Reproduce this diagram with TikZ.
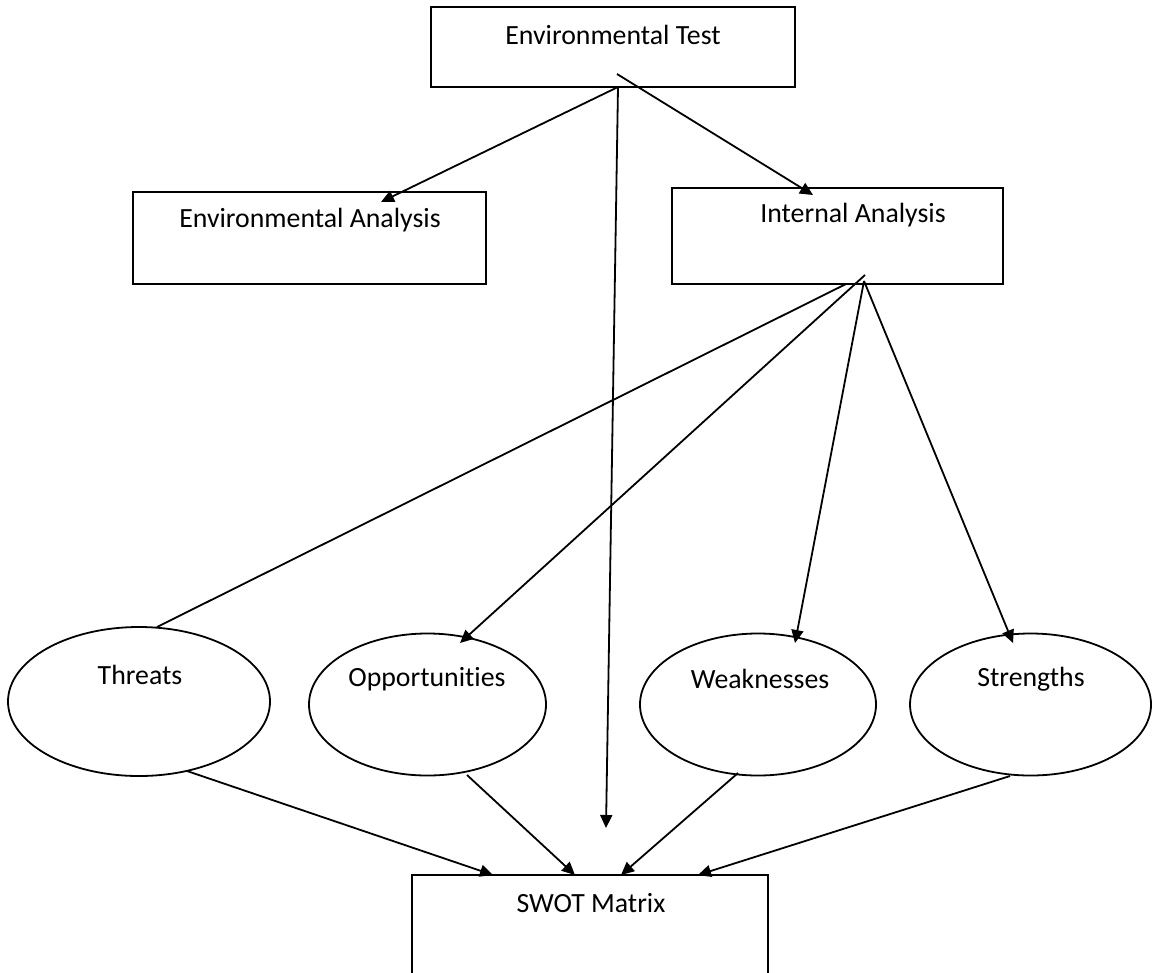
\documentclass[tikz,border=0pt]{standalone}
\usepackage{fontspec}
\setmainfont[Ligatures=NoCommon]{Carlito}
\usetikzlibrary{arrows.meta,shapes.geometric}
\tikzset{
  box/.style={draw=black, line width=1.8pt, rectangle, inner sep=0pt, outer sep=0pt},
  oval/.style={draw=black, line width=1.8pt, ellipse, inner sep=0pt, outer sep=0pt},
  lbl/.style={inner sep=0pt, font=\fontsize{27.8}{32}\selectfont},
  conn/.style={line width=1.8pt, draw=black},
  arr/.style={conn, -{Triangle[length=13pt,width=12pt]}},
}
\begin{document}
\begin{tikzpicture}[x=1pt,y=-1pt]
\useasboundingbox (0,0) rectangle (1155,972);
\fill[white] (0,0) rectangle (1155,972);
% boxes
\node[box, minimum width=364pt, minimum height=80pt] (et) at (613,47) {};
\node[lbl] (etT) at (613,35) {Environmental Test};
\node[box, minimum width=353pt, minimum height=92pt] (ea) at (309.5,238) {};
\node[lbl] (eaT) at (310,220) {Environmental Analysis};
\node[box, minimum width=331pt, minimum height=96pt] (ia) at (837.5,236) {};
\node[lbl] (iaT) at (853,215) {Internal Analysis};
\node[box, minimum width=356pt, minimum height=120pt] (sw) at (590,935) {};
\node[lbl] (swT) at (591,903) {SWOT Matrix};
% ellipses
\node[oval, minimum width=262pt, minimum height=149pt] (th) at (139,701.5) {};
\node[lbl] (thT) at (140,675) {Threats};
\node[oval, minimum width=237pt, minimum height=142pt] (op) at (427.5,704.5) {};
\node[lbl] (opT) at (427,679) {Opportunities};
\node[oval, minimum width=236pt, minimum height=142pt] (wk) at (758,704.5) {};
\node[lbl] (wkT) at (760,679) {Weaknesses};
\node[oval, minimum width=241pt, minimum height=142pt] (st) at (1030.5,704.5) {};
\node[lbl] (stT) at (1031,679) {Strengths};
% connector end points
\coordinate (etA) at (618,87);
\coordinate (etB) at (617,74);
\coordinate (eaTip) at (381,202);
\coordinate (iaTip) at (813,195);
\coordinate (vTip) at (606,828);
\coordinate (iaA) at (846,284);
\coordinate (iaB) at (865,275);
\coordinate (iaC) at (864,281);
\coordinate (thTop) at (157,627);
\coordinate (opTip) at (460,643);
\coordinate (wkTip) at (795,643);
\coordinate (stTip) at (1013,643);
\coordinate (thBot) at (187,771);
\coordinate (opBot) at (467,775);
\coordinate (wkBot) at (738,773);
\coordinate (stBot) at (1010,776);
\coordinate (sw1) at (493,875);
\coordinate (sw2) at (575,875);
\coordinate (sw3) at (621,875);
\coordinate (sw4) at (698,875);
% connectors
\draw[arr] (etA) -- (eaTip);
\draw[arr] (etB) -- (iaTip);
\draw[arr] (etA) -- (vTip);
\draw[conn] (iaA) -- (thTop);
\draw[arr] (iaB) -- (opTip);
\draw[arr] (iaC) -- (wkTip);
\draw[arr] (iaC) -- (stTip);
\draw[arr] (thBot) -- (sw1);
\draw[arr] (opBot) -- (sw2);
\draw[arr] (wkBot) -- (sw3);
\draw[arr] (stBot) -- (sw4);
\end{tikzpicture}
\end{document}
